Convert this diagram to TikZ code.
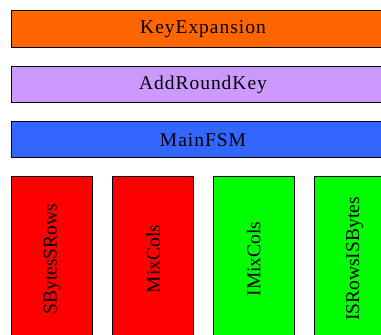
\documentclass[tikz,border=0pt]{standalone}
\usepackage{fontspec}
\setmainfont{Liberation Serif}
\newfontfamily\hfont[LetterSpace=5]{Liberation Serif}
\newfontfamily\vfont{Liberation Serif}
\definecolor{keyorange}{HTML}{FF6600}
\definecolor{arklav}{HTML}{CC99FF}
\definecolor{fsmblue}{HTML}{3366FF}
\definecolor{modred}{HTML}{FF0000}
\definecolor{modgreen}{HTML}{00FF00}
\tikzset{
  barbox/.style={draw=black, line width=1pt, rectangle, inner sep=0pt,
    minimum width=384pt, minimum height=36.5pt,
    font=\hfont\fontsize{19.5}{22}\selectfont},
  colbox/.style={draw=black, line width=1pt, rectangle, inner sep=0pt,
    rotate=90, minimum width=166pt, minimum height=81pt,
    font=\vfont\fontsize{19.5}{22}\selectfont}
}
\begin{document}
\begin{tikzpicture}[x=1pt,y=-1pt]
\useasboundingbox (0,0) rectangle (381,335);
\clip (0,0) rectangle (381,335);
\node[barbox, fill=keyorange] (key) at (203,29.2) {KeyExpansion};
\node[barbox, fill=arklav] (ark) at (203,84.7) {AddRoundKey};
\node[barbox, fill=fsmblue] (fsm) at (203,139.7) {MainFSM};
\node[colbox, fill=modred] (sb) at (52.2,259) {SBytesSRows};
\node[colbox, fill=modred] (mc) at (153.2,259) {MixCols};
\node[colbox, fill=modgreen] (imc) at (253.7,259) {IMixCols};
\node[colbox, fill=modgreen] (isr) at (354.8,259) {ISRowsISBytes};
\end{tikzpicture}
\end{document}
